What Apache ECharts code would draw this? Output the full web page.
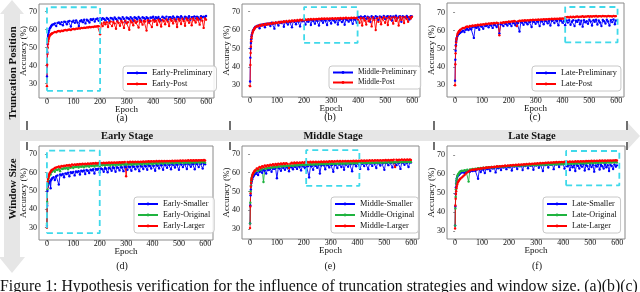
<!DOCTYPE html>
<html><head><meta charset="utf-8">
<script src="https://cdn.jsdelivr.net/npm/echarts@6/dist/echarts.min.js"></script>
<style>html,body{margin:0;padding:0;background:#fff}#c{width:640px;height:292px}</style>
</head><body><div id="c"></div>
<script>
const EPOCHS = [0,1,2,3,4,5,6,8,10,12,14,16,18,
20,25,30,35,40,45,50,55,60,65,70,75,80,85,90,95,100,105,110,115,120,125,130,135,140,145,150,155,160,165,
170,175,180,185,190,195,200,205,210,215,220,225,230,235,240,245,250,255,260,265,270,275,280,285,290,295,
300,305,310,315,320,325,330,335,340,345,350,355,360,365,370,375,380,385,390,395,400,405,410,415,
420,425,430,435,440,445,450,455,460,465,470,475,480,485,490,495,500,505,510,515,520,525,530,535,540,545,
550,555,560,565,570,575,580,585,590,595,599];
const X_TICKS = [0,100,200,300,400,500,600];
const Y_TICKS = [30,40,50,60,70];

// (a)
const EARLY_PRELIM = [34.0,47.5,52.0,55.0,56.5,57.5,58.5,59.5,60.5,61.0,61.5,62.0,62.5,
62.8,63.0,63.5,62.0,63.8,64.0,63.2,64.2,62.5,64.5,
64.3,63.0,64.6,64.8,61.8,64.5,65.0,63.8,65.2,64.0,
62.0,64.8,65.3,64.2,65.5,63.5,65.6,65.0,64.0,65.8,
65.4,66.0,64.5,65.9,66.2,65.0,66.3,65.5,66.4,66.0,
65.2,66.5,66.0,64.8,66.6,66.2,65.5,66.8,66.0,65.0,
66.7,66.3,65.6,67.0,66.1,64.5,66.8,66.4,65.8,67.0,
66.2,65.0,66.9,66.5,65.7,67.1,66.3,64.8,66.9,66.6,
65.9,67.0,66.4,64.5,66.8,66.6,67.2,65.8,66.9,66.4,
67.1,66.0,65.2,67.2,66.7,66.2,67.3,65.5,66.9,67.0,
66.3,67.4,66.6,65.4,67.2,66.9,66.1,67.5,66.7,65.9,
67.3,66.8,66.2,67.5,65.6,67.0,66.9,67.4,66.3,67.2,
66.8,65.8,67.5,66.9,67.3,66.5,67.6];
const EARLY_POST = [28.5,40.5,46.5,50.0,52.0,53.5,54.5,55.5,56.5,57.0,57.3,57.6,57.8,
58.0,58.4,58.8,58.6,59.1,59.3,59.0,59.5,59.3,59.7,
59.8,59.6,60.0,60.1,59.8,60.3,60.4,60.2,60.6,60.5,
60.8,60.6,61.0,60.9,61.1,61.0,61.3,61.2,61.5,61.3,
61.6,61.5,61.8,61.7,62.0,61.9,57.5,63.5,62.0,64.0,
63.0,64.2,61.5,63.8,64.5,62.0,64.3,63.5,60.5,64.6,
63.8,62.2,64.8,64.0,61.0,64.9,63.6,64.2,60.0,65.0,
64.1,62.5,65.1,63.9,64.5,61.2,65.2,64.3,62.8,65.0,
64.6,59.5,65.3,63.8,64.9,61.5,65.4,64.4,65.0,62.6,
65.5,64.6,61.8,65.6,64.8,63.0,65.7,64.5,62.0,65.8,
65.0,63.5,65.9,64.7,61.5,66.0,65.1,63.2,66.1,64.9,
62.2,66.2,65.3,63.8,66.0,62.5,66.3,65.2,64.0,66.4,
65.5,62.8,66.5,65.0,61.0,66.3,65.6];
// (b)
const MIDDLE_PRELIM = [32.0,45.0,50.0,53.0,55.0,56.5,57.5,58.5,59.5,60.0,60.5,61.0,61.5,
61.8,62.0,62.5,61.0,63.0,62.5,63.2,61.5,63.5,63.0,
63.6,62.2,64.0,63.4,60.8,64.2,63.8,62.5,64.4,63.9,
64.5,61.8,64.6,64.1,63.0,64.8,64.3,61.5,65.0,64.5,
63.2,65.1,64.6,62.0,65.2,64.8,65.3,63.0,65.2,64.5,
65.4,62.8,65.3,64.9,63.5,65.5,65.0,62.5,65.6,65.2,
64.0,65.6,65.1,62.8,65.7,65.3,63.6,65.8,65.2,64.2,
65.8,63.0,65.5,65.9,64.4,65.7,62.9,66.0,65.4,64.6,
65.9,65.5,63.4,66.0,65.6,64.0,67.2,66.8,67.4,66.5,
67.0,67.5,66.2,67.3,66.9,64.5,67.5,67.0,66.4,67.6,
67.1,65.5,67.4,67.2,66.6,67.7,66.0,67.3,67.5,66.8,
67.6,65.2,67.4,67.0,67.8,66.5,67.3,67.6,64.5,67.5,
67.2,66.8,67.7,67.0,65.8,67.5,67.4];
const MIDDLE_POST = [29.5,41.0,47.5,51.0,54.0,55.5,56.5,58.0,59.0,59.8,60.3,60.8,61.2,
61.6,62.2,62.0,62.8,62.4,63.1,62.6,63.4,62.9,63.6,
63.2,63.8,63.4,64.0,63.6,64.2,63.8,64.4,64.0,64.6,
64.2,64.8,64.4,65.0,64.5,65.1,64.7,65.2,64.8,65.4,
65.0,65.5,65.1,65.6,65.2,65.7,65.3,65.8,65.5,65.9,
65.6,66.0,65.7,66.1,65.8,66.1,65.9,66.2,65.9,66.3,
66.0,66.3,66.1,66.4,66.0,66.4,66.2,66.5,66.1,66.5,
66.2,66.5,66.3,66.6,66.2,66.6,66.4,66.7,66.3,66.6,
66.4,66.7,66.5,66.8,66.5,66.8,65.5,64.0,66.6,62.5,
66.5,65.2,63.0,66.8,64.8,66.2,62.0,66.9,65.5,60.0,
66.4,64.5,66.9,63.2,66.0,67.0,64.0,66.5,62.8,67.1,
65.8,66.8,63.5,67.0,65.0,66.6,62.5,67.2,65.5,66.9,
63.8,67.1,66.0,64.5,67.2,66.3,67.3];
// (c)
const LATE_PRELIM = [32.5,44.0,49.0,52.0,54.0,55.0,55.8,56.8,57.5,58.0,58.2,58.5,58.8,
59.0,59.4,60.0,59.2,60.5,61.0,60.3,61.4,60.8,61.8,
56.0,62.0,61.5,62.3,60.5,62.6,62.2,61.0,62.8,62.5,
63.0,61.8,63.2,62.8,61.5,63.4,63.0,62.0,63.6,58.5,
63.5,63.8,62.5,64.0,63.6,62.8,64.2,63.8,62.5,64.4,
64.0,63.0,64.6,64.2,59.5,64.8,64.3,63.2,65.0,64.5,
63.5,65.1,64.7,62.0,65.2,64.8,63.8,65.3,64.9,62.5,
65.4,65.0,63.5,65.5,65.1,64.0,65.6,62.8,65.4,65.7,
64.2,65.8,65.3,63.0,65.9,65.5,64.4,65.2,63.0,65.6,
64.5,65.8,63.2,65.0,65.7,62.5,65.4,64.8,65.9,63.5,
65.5,62.2,65.8,64.6,65.2,63.8,66.0,65.0,62.8,65.7,
64.9,66.0,63.4,65.6,64.5,62.5,65.9,65.2,63.9,66.0,
65.0,62.8,65.8,64.7,66.1,63.5,65.6];
const LATE_POST = [30.0,41.5,47.5,51.5,53.5,55.0,56.0,57.5,58.5,59.0,59.5,59.8,60.2,
60.5,61.0,61.5,61.3,62.0,62.3,62.0,62.6,62.4,62.8,
62.6,63.0,62.8,63.2,63.0,63.4,63.2,63.6,63.4,63.8,
63.6,64.0,63.8,64.1,63.9,64.2,64.0,64.3,64.1,57.5,
64.4,64.2,64.6,64.4,64.8,64.6,65.0,64.8,65.1,65.0,
65.3,65.1,62.5,65.2,65.5,65.3,65.6,65.4,65.7,65.5,
65.8,65.6,65.9,65.7,66.0,65.8,66.0,65.9,66.1,65.9,
66.2,66.0,66.3,66.1,66.3,66.2,66.4,66.2,66.5,66.3,
66.5,66.4,66.6,66.4,66.7,66.5,66.7,66.6,67.2,67.4,
67.5,67.2,67.6,67.3,67.7,67.4,67.6,67.8,67.5,67.7,
67.6,67.9,67.5,67.8,67.7,68.0,67.6,67.9,67.7,68.0,
67.8,68.1,67.7,67.9,68.0,67.8,68.1,67.9,68.0,67.8,
68.1,67.9,68.0,67.8,68.1,67.9,68.0];
// (d)
const EARLY_SMALLER = [31.0,42.0,50.0,52.5,53.0,53.5,54.0,54.5,55.0,55.5,51.5,56.0,56.5,
57.0,57.5,56.0,58.0,58.5,53.5,59.0,58.6,59.3,57.5,
59.6,59.2,60.0,58.0,60.2,59.8,60.4,58.5,60.6,60.2,
60.8,59.0,61.0,60.6,61.2,59.2,61.4,61.0,59.8,61.6,
61.2,61.8,59.5,62.0,61.6,62.2,60.0,62.3,61.9,60.5,
62.5,62.1,60.2,62.7,62.3,61.0,62.9,62.5,60.5,63.0,
62.6,61.2,63.2,62.8,60.8,63.3,63.0,61.5,63.4,63.1,
61.0,63.5,63.2,61.8,63.6,63.3,60.8,63.8,63.4,62.0,
63.9,63.5,61.5,64.0,63.6,62.2,64.1,63.7,61.0,64.2,
63.8,62.3,64.3,64.0,61.5,64.4,64.1,62.6,64.5,64.2,
61.8,64.6,64.2,62.8,64.7,64.3,61.5,64.8,64.4,63.0,
64.8,64.5,62.0,64.9,64.6,63.2,65.0,64.6,61.8,65.0,
64.7,63.0,65.1,64.8,62.2,65.0,64.6];
const EARLY_ORIGINAL = [32.0,44.0,51.0,53.5,55.0,56.0,57.0,58.0,58.8,59.5,59.0,60.2,60.5,
60.8,61.2,60.5,61.6,61.4,61.9,60.8,62.2,62.0,62.4,
62.2,62.6,61.8,62.8,62.6,63.0,62.5,63.2,63.0,63.3,
62.8,63.4,63.2,63.5,62.9,63.6,63.4,63.7,63.2,63.8,
63.6,63.9,63.3,64.0,63.8,64.1,63.5,64.2,64.0,64.2,
63.8,64.3,64.1,64.4,63.7,64.5,64.2,64.5,63.9,64.6,
64.3,64.6,64.0,64.7,64.4,64.7,64.1,64.8,64.5,64.8,
64.2,64.9,64.6,64.9,64.3,65.0,64.7,65.0,64.4,65.1,
64.8,65.1,64.5,65.2,64.9,65.2,64.6,65.3,65.0,65.3,
64.7,65.4,65.1,65.4,64.8,65.5,65.2,65.5,64.9,65.5,
65.3,65.6,65.0,65.6,65.3,65.7,65.0,65.7,65.4,65.7,
65.1,65.8,65.4,65.8,65.1,65.8,65.5,65.9,65.2,65.9,
65.5,65.9,65.2,66.0,65.6,65.9,65.4];
const EARLY_LARGER = [30.0,43.0,52.0,55.0,56.5,57.5,58.0,58.8,59.5,60.0,60.5,61.0,61.3,
61.6,62.0,62.5,62.8,63.0,63.3,62.8,63.6,63.4,63.8,
63.6,64.0,63.8,64.2,63.5,64.4,64.1,64.5,64.2,64.6,
64.3,64.7,64.4,64.8,64.5,64.9,64.6,65.0,64.7,65.0,
64.8,65.1,64.9,65.2,64.9,65.3,65.0,65.3,65.1,65.4,
65.1,65.4,65.2,65.5,65.2,65.5,65.3,65.6,65.3,65.6,
65.4,65.7,65.4,65.7,65.5,65.8,58.0,65.8,65.5,65.9,
65.6,65.9,65.6,66.0,65.7,66.0,65.7,66.0,65.8,66.1,
65.8,66.1,65.9,66.2,65.9,66.2,66.0,66.2,66.0,66.3,
66.0,66.3,66.1,66.3,66.1,66.4,66.1,66.4,66.2,66.4,
66.2,66.5,66.2,66.5,66.3,66.5,66.3,66.6,66.3,66.6,
66.4,66.6,66.4,66.7,66.4,66.7,66.5,66.7,66.5,66.8,
66.5,66.8,66.6,66.8,66.6,66.9,66.6];
// (e)
const MIDDLE_SMALLER = [33.0,42.5,48.0,51.0,53.0,54.5,55.5,56.5,57.5,58.0,58.5,59.0,59.3,
59.6,60.0,58.8,60.5,61.0,60.0,61.3,61.0,59.5,61.6,
61.4,62.0,60.5,62.2,62.0,62.5,57.0,62.6,62.3,61.0,
62.8,62.5,61.5,63.0,62.7,60.8,63.2,62.9,61.8,63.3,
63.0,62.0,63.5,63.1,61.2,63.6,63.3,62.4,63.7,63.4,
57.5,63.8,63.5,61.5,64.0,63.6,62.6,64.1,59.5,63.8,
64.2,63.9,61.8,64.3,64.0,62.8,64.4,64.1,60.5,64.5,
64.2,62.5,64.6,64.3,63.0,64.7,61.5,64.4,64.8,63.2,
64.8,64.5,60.8,64.9,64.6,63.4,65.0,64.7,62.0,65.0,
64.8,63.5,65.1,64.8,61.8,65.2,64.9,63.6,65.2,64.9,
62.5,65.3,65.0,63.8,65.3,65.0,61.5,65.4,65.1,64.0,
65.4,65.1,62.8,65.5,65.2,64.0,65.5,65.2,62.0,65.6,
65.3,64.2,65.6,65.3,63.0,65.7,65.4];
const MIDDLE_ORIGINAL = [33.0,44.0,50.0,53.0,55.0,56.5,57.5,58.5,59.0,59.5,60.0,60.3,60.6,
60.9,61.3,61.0,61.7,61.5,62.0,55.0,62.3,62.1,62.6,
62.4,62.8,62.6,63.0,62.8,63.2,62.9,63.4,63.1,63.5,
63.3,63.6,63.4,63.7,63.5,63.8,63.6,63.9,63.6,64.0,
63.8,64.1,63.9,64.2,64.0,64.3,64.0,64.4,64.1,64.4,
64.2,64.5,64.3,64.5,64.3,64.6,64.4,64.6,64.4,64.7,
64.5,64.7,64.5,64.8,64.6,64.8,64.6,64.9,64.6,64.9,
64.7,64.9,64.7,65.0,64.8,65.0,64.8,65.0,64.8,65.1,
64.9,65.1,64.9,65.1,65.0,65.2,65.0,65.2,65.0,65.2,
65.1,65.3,65.1,65.3,65.1,65.3,65.2,65.4,65.2,65.4,
65.2,65.4,65.3,65.5,65.3,65.5,65.3,65.5,65.4,65.6,
65.4,65.6,65.4,65.6,65.5,65.7,65.5,65.7,65.5,65.7,
65.6,65.8,65.6,65.8,65.6,65.8,65.7];
const MIDDLE_LARGER = [30.5,42.0,49.0,52.5,54.5,56.0,57.0,58.2,59.2,59.8,60.3,60.8,61.2,
61.2,62.3,61.9,63.0,62.5,63.4,62.9,63.8,63.3,64.0,
63.6,64.2,63.8,64.5,63.9,64.6,64.1,64.8,64.3,64.9,
64.5,65.0,64.6,65.1,64.7,62.5,64.8,65.3,64.9,65.4,
65.0,65.5,65.1,65.5,65.2,65.6,65.2,65.7,65.3,65.7,
65.4,65.8,65.4,65.8,65.5,65.9,65.5,65.9,65.6,66.0,
65.6,66.0,65.7,66.0,65.7,66.1,65.8,66.1,65.8,66.1,
65.9,66.2,65.9,66.2,65.9,66.2,66.0,66.3,66.0,66.3,
66.0,66.3,66.1,66.4,66.1,66.4,66.1,66.4,66.2,66.5,
66.2,66.5,66.2,66.5,66.3,66.6,66.3,66.6,66.3,66.6,
66.4,66.7,66.4,66.7,66.4,66.7,66.5,66.8,66.5,66.8,
66.5,66.8,66.6,66.9,63.0,66.9,66.6,66.9,66.7,67.0,
66.7,67.0,66.7,67.0,66.8,67.0,66.8];
// (f)
const LATE_SMALLER = [33.0,43.0,49.5,53.0,55.0,56.5,57.5,58.5,59.0,59.3,59.6,60.0,60.2,
60.5,60.8,61.0,60.5,61.3,61.0,61.6,61.2,61.8,61.5,
62.0,61.6,62.2,57.5,62.4,61.0,62.6,62.2,60.5,62.8,
62.5,63.0,61.5,63.2,62.8,63.3,60.8,63.4,63.0,63.5,
62.0,63.6,63.3,63.8,62.5,63.9,63.5,64.0,61.8,64.1,
63.8,64.2,62.6,64.3,64.0,64.4,62.0,64.5,64.1,64.6,
63.0,64.6,64.3,64.7,62.2,64.8,64.4,64.9,63.2,65.0,
64.6,61.5,65.0,64.7,65.1,63.4,65.1,64.8,65.2,62.5,
65.2,64.9,65.3,63.6,65.3,65.0,65.4,62.8,65.0,64.0,
64.5,62.0,64.8,63.5,64.6,61.5,64.9,64.2,62.8,64.7,
63.8,65.0,61.8,64.6,64.1,62.5,64.9,63.6,64.8,61.2,
64.5,63.9,65.0,62.3,64.7,64.0,62.8,65.1,63.5,64.6,
61.5,64.8,64.2,62.6,65.0,63.8,64.5];
const LATE_ORIGINAL = [33.0,42.0,48.0,52.0,55.0,56.5,57.5,58.8,59.5,60.0,60.4,60.8,61.1,
61.4,61.7,61.5,62.0,61.8,62.2,56.0,62.4,62.2,62.6,
62.4,62.8,62.6,63.0,62.7,63.1,62.9,63.3,63.0,63.4,
63.2,63.5,63.3,63.6,63.4,63.7,63.5,63.8,63.6,63.9,
63.7,64.0,63.8,64.1,63.9,64.2,64.0,64.3,64.1,64.3,
64.2,64.4,64.2,64.5,64.3,64.5,64.4,64.6,64.4,64.7,
64.5,64.7,64.5,64.8,64.6,64.8,64.6,64.9,64.7,64.9,
64.7,65.0,64.8,65.0,64.8,65.1,64.9,65.1,64.9,65.2,
65.0,65.2,65.0,65.3,65.1,65.3,65.1,65.4,65.2,65.4,
65.2,65.5,65.3,65.5,65.3,65.6,65.4,65.6,65.4,65.7,
65.5,65.7,65.5,65.8,65.6,65.8,65.6,65.9,65.6,65.9,
65.7,65.9,65.7,66.0,65.8,66.0,65.8,66.1,65.8,66.1,
65.9,66.1,65.9,66.2,66.0,66.2,66.0];
const LATE_LARGER = [31.5,43.5,47.0,49.5,51.0,52.5,53.5,54.5,55.5,56.0,56.5,57.0,57.3,
57.6,58.2,58.8,59.5,60.2,60.8,61.3,61.8,62.0,62.3,
62.1,62.5,62.3,62.8,62.5,63.0,62.8,63.2,63.0,63.4,
63.2,63.5,63.3,63.7,63.5,63.8,63.6,64.0,63.8,64.1,
63.9,64.2,64.0,64.4,64.1,64.5,64.3,64.6,64.4,64.7,
64.5,64.8,64.6,64.9,64.7,65.0,64.8,65.1,64.9,65.2,
65.0,65.3,65.1,65.4,65.2,65.5,65.3,65.6,65.4,65.7,
65.5,65.8,65.6,65.9,65.7,66.0,65.8,66.0,65.9,66.1,
66.0,66.2,66.0,66.3,66.1,66.3,66.1,66.4,66.2,66.4,
66.2,66.5,66.3,66.5,66.3,66.6,66.4,66.6,66.4,66.7,
66.5,66.7,66.5,66.8,66.6,66.8,66.6,66.9,66.6,66.9,
66.7,66.9,66.7,67.0,66.8,67.0,66.8,67.0,66.8,67.1,
66.9,67.1,66.9,67.1,67.0,67.2,67.0];

// highlight boxes [x0, x1, y0, y1]
const BOX_A = [0, 200, 26, 72.5];
const BOX_B = [200, 398, 53, 72.5];
const BOX_C = [410, 605, 53.5, 73];
const BOX_D = [0, 200, 27, 72];
const BOX_E = [209, 407, 53, 72];
const BOX_F = [411, 608, 54, 72];

const STAGES = ['Early Stage', 'Middle Stage', 'Late Stage'];
const ROW_TITLES = ['Truncation Position', 'Window Size'];
const CAPTION = 'Figure 1: Hypothesis verification for the influence of truncation strategies and window size. (a)(b)(c)';

const BLUE = '#0000ff', RED = '#ff0000', GREEN = '#1fb33f', CYAN = '#3fd9ea';
const FONT = '"Liberation Serif", "DejaVu Serif", serif';

const panels = [
  {grid:{left:39,top:4,width:175,height:94}, y:[22,74.3], box:BOX_A, lbl:'(a)', lp:[122,118], lg:{left:123,top:66,fs:8.4},
   s:[['Early-Preliminary',EARLY_PRELIM,BLUE],['Early-Post',EARLY_POST,RED]]},
  {grid:{left:242,top:4,width:178,height:93}, y:[23.6,74.2], box:BOX_B, lbl:'(b)', lp:[330,117], lg:{left:329,top:66,fs:7.4},
   s:[['Middle-Preliminary',MIDDLE_PRELIM,BLUE],['Middle-Post',MIDDLE_POST,RED]]},
  {grid:{left:447,top:3,width:177,height:94}, y:[23.5,75.2], box:BOX_C, lbl:'(c)', lp:[535,117], lg:{left:532,top:66,fs:8.2},
   s:[['Late-Preliminary',LATE_PRELIM,BLUE],['Late-Post',LATE_POST,RED]]},
  {grid:{left:39,top:146,width:174,height:94}, y:[23.3,74.5], box:BOX_D, lbl:'(d)', lp:[122,266], lg:{left:134,top:197,fs:8.1},
   s:[['Early-Smaller',EARLY_SMALLER,BLUE],['Early-Original',EARLY_ORIGINAL,GREEN],['Early-Larger',EARLY_LARGER,RED]]},
  {grid:{left:242,top:146,width:177,height:93}, y:[24.7,74.2], box:BOX_E, lbl:'(e)', lp:[330,266], lg:{left:331,top:197,fs:8.3},
   s:[['Middle-Smaller',MIDDLE_SMALLER,BLUE],['Middle-Original',MIDDLE_ORIGINAL,GREEN],['Middle-Larger',MIDDLE_LARGER,RED]]},
  {grid:{left:447,top:146,width:178,height:93}, y:[26,74.6], box:BOX_F, lbl:'(f)', lp:[537,266], lg:{left:543,top:197,fs:8.2},
   s:[['Late-Smaller',LATE_SMALLER,BLUE],['Late-Original',LATE_ORIGINAL,GREEN],['Late-Larger',LATE_LARGER,RED]]}
];

const grids=[], xAxes=[], yAxes=[], series=[], legends=[], graphics=[];
const axisCommon = {
  axisLine:{show:false},
  axisTick:{show:true, length:2, inside:false, lineStyle:{color:'#777', width:0.8}},
  splitLine:{show:false},
  axisLabel:{fontFamily:FONT, fontSize:8, color:'#111', margin:1},
  nameTextStyle:{fontFamily:FONT, fontSize:9, color:'#111'},
  nameMoveOverlap:false
};
panels.forEach((p,i)=>{
  grids.push(Object.assign({show:true, borderColor:'#8a8a8a', borderWidth:1, backgroundColor:'transparent'}, p.grid));
  xAxes.push(Object.assign({}, axisCommon, {
    type:'value', gridIndex:i, min:-30, max:629,
    axisTick:Object.assign({}, axisCommon.axisTick, {customValues:X_TICKS}),
    axisLabel:Object.assign({}, axisCommon.axisLabel, {customValues:X_TICKS, margin:0}),
    name:'Epoch', nameLocation:'middle', nameGap:7
  }));
  yAxes.push(Object.assign({}, axisCommon, {
    type:'value', gridIndex:i, min:p.y[0], max:p.y[1],
    axisTick:Object.assign({}, axisCommon.axisTick, {customValues:Y_TICKS}),
    axisLabel:Object.assign({}, axisCommon.axisLabel, {customValues:Y_TICKS, margin:2}),
    name:'Accuracy (%)', nameLocation:'middle', nameGap:11
  }));
  p.s.forEach(([name, vals, color])=>{
    series.push({
      type:'line', name, xAxisIndex:i, yAxisIndex:i,
      data: vals.map((v,k)=>[EPOCHS[k], v]),
      symbol:'circle', symbolSize:2.4, showSymbol:true,
      lineStyle:{width:0.9, color}, itemStyle:{color},
      z:2, silent:true, clip:true
    });
  });
  const b = p.box;
  series.push({
    type:'line', name:'box'+i, xAxisIndex:i, yAxisIndex:i,
    data:[[b[0],b[2]],[b[1],b[2]],[b[1],b[3]],[b[0],b[3]],[b[0],b[2]]],
    symbol:'none', lineStyle:{color:CYAN, width:1.8, type:[6,4]}, z:5, silent:true
  });
  legends.push({
    orient:'vertical', left:p.lg.left, top:p.lg.top,
    data:p.s.map(s=>s[0]),
    itemWidth:20, itemHeight:3.5, itemGap:3,
    padding:[3,4,3,3],
    backgroundColor:'rgba(255,255,255,0.85)', borderColor:'#c8c8c8', borderWidth:1, borderRadius:3,
    textStyle:{fontFamily:FONT, fontSize:p.lg.fs, color:'#111'},
    selectedMode:false
  });
  graphics.push({type:'text', x:p.lp[0], y:p.lp[1], z:10,
    style:{text:p.lbl, fontFamily:FONT, fontSize:10, fill:'#111', textAlign:'center', textVerticalAlign:'middle'}});
});

// decorations: gray arrows
const GRAY = '#e6e6e6';
graphics.unshift(
  {type:'polygon', z:0, shape:{points:[[12,0],[24,14],[20,14],[20,257],[25,257],[12,273],[-1,257],[4,257],[4,14],[0,14]]}, style:{fill:GRAY}},
  {type:'polygon', z:0, shape:{points:[[20,130],[628,130],[628,123],[640,136],[628,149],[628,141],[20,141]]}, style:{fill:GRAY}}
);
[27,230,434,627].forEach(x=>{
  graphics.push({type:'line', z:1, shape:{x1:x,y1:121,x2:x,y2:130}, style:{stroke:'#222', lineWidth:1.3}});
  graphics.push({type:'line', z:1, shape:{x1:x,y1:142,x2:x,y2:150}, style:{stroke:'#222', lineWidth:1.3}});
});
[[127,136],[333,136],[532,136]].forEach((pos,i)=>{
  graphics.push({type:'text', x:pos[0], y:pos[1], z:2,
    style:{text:STAGES[i], fontFamily:FONT, fontSize:10.5, fontWeight:'bold', fill:'#111', textAlign:'center', textVerticalAlign:'middle'}});
});
[[13,73],[13,189]].forEach((pos,i)=>{
  graphics.push({type:'text', x:pos[0], y:pos[1], rotation:Math.PI/2, z:2,
    style:{text:ROW_TITLES[i], fontFamily:FONT, fontSize:11, fontWeight:'bold', fill:'#111', textAlign:'center', textVerticalAlign:'middle'}});
});
graphics.push({type:'text', x:0, y:279, z:2,
  style:{text:CAPTION, fontFamily:FONT, fontSize:15.8, fill:'#111', textAlign:'left', textVerticalAlign:'top'}});

const chart = echarts.init(document.getElementById('c'), null, {renderer:'canvas'});
chart.setOption({
  animation:false,
  backgroundColor:'#fff',
  grid:grids, xAxis:xAxes, yAxis:yAxes, series, legend:legends, graphic:graphics
});
</script>
</body></html>
